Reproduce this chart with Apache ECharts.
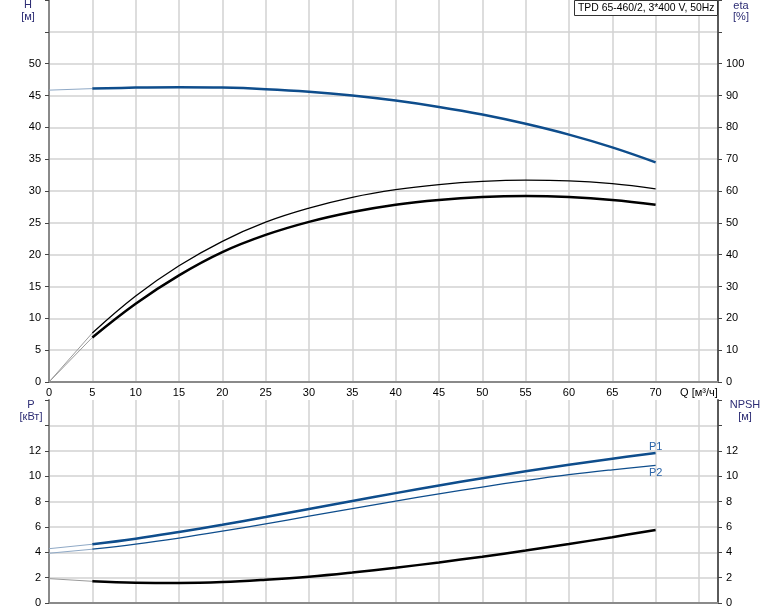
<!DOCTYPE html>
<html><head><meta charset="utf-8">
<script src="https://cdn.jsdelivr.net/npm/echarts/dist/echarts.min.js"></script>
<style>html,body{margin:0;padding:0;background:#fff}#c{width:774px;height:611px}</style>
</head><body><div id="c"></div>
<script>
// ---- data ----
const Q        = [0, 5, 10, 15, 20, 25, 30, 35, 40, 45, 50, 55, 60, 65, 70];
const H        = [45.84, 46.08, 46.24, 46.3, 46.24, 46.0, 45.6, 45.0, 44.2, 43.2, 42.0, 40.55, 38.85, 36.85, 34.5];
const etaThin  = [0, 15.4, 27.0, 36.5, 44.2, 50.2, 54.6, 58.0, 60.4, 62.0, 63.0, 63.4, 63.2, 62.3, 60.7];
const etaThick = [0, 14.0, 24.6, 33.5, 40.8, 46.2, 50.3, 53.4, 55.7, 57.2, 58.1, 58.4, 58.1, 57.2, 55.7];
const P1       = [4.28, 4.63, 5.07, 5.6, 6.17, 6.78, 7.41, 8.04, 8.66, 9.26, 9.84, 10.38, 10.89, 11.37, 11.82];
const P2       = [3.92, 4.24, 4.64, 5.12, 5.66, 6.24, 6.84, 7.44, 8.03, 8.6, 9.14, 9.65, 10.11, 10.5, 10.85];
const NPSH     = [1.92, 1.71, 1.6, 1.58, 1.65, 1.83, 2.07, 2.40, 2.78, 3.2, 3.65, 4.14, 4.65, 5.19, 5.76];
const titleText = 'TPD 65-460/2, 3*400 V, 50Hz';
const qLabel = 'Q [м³/ч]';

const FONT = '"Liberation Sans", Arial, sans-serif';
const BLUE = '#0e4d8c', BLUE_EXT = '#8fa9c6', BLACK = '#000', GREY_EXT = '#9a9a9a';
const GRIDC = '#d2d2d2';

function pts(ys, a, b) { return Q.slice(a, b).map((q, i) => [q, ys[a + i]]); }
function ext(ys, xi, yi, color) {
  return { type: 'line', xAxisIndex: xi, yAxisIndex: yi, data: pts(ys, 0, 2), showSymbol: false,
    lineStyle: { color: color, width: 1 }, silent: true, z: 3 };
}
function main(ys, xi, yi, color, w, extra) {
  return Object.assign({ type: 'line', xAxisIndex: xi, yAxisIndex: yi, data: pts(ys, 1, Q.length),
    showSymbol: false, smooth: 0.4, lineStyle: { color: color, width: w }, silent: true, z: 4 }, extra || {});
}
const splitL = { show: true, showMinLine: false, showMaxLine: false, lineStyle: { color: GRIDC, width: 1.5 } };
function xAx(gi, labels) {
  return { type: 'value', gridIndex: gi, min: 0, max: 77.2, interval: 5,
    axisLine: { show: true, onZero: false, lineStyle: { color: '#8a8a8a', width: 2 } },
    axisTick: { show: false },
    axisLabel: { show: labels, margin: 5, color: '#000', fontSize: 11, fontFamily: FONT,
      formatter: v => (v === 75 ? qLabel : (v % 5 === 0 && v < 75 ? String(v) : '')) },
    splitLine: splitL };
}
function yAx(gi, pos, max, interval, maxLabel, split, lineColor) {
  return { type: 'value', gridIndex: gi, position: pos, min: 0, max: max, interval: interval,
    axisLine: { show: true, onZero: false, lineStyle: { color: lineColor, width: 2 } },
    axisTick: { show: true, length: 4, lineStyle: { color: '#444' } },
    axisLabel: { margin: 8, color: '#000', fontSize: 11, fontFamily: FONT,
      formatter: v => (v <= maxLabel ? String(v) : '') },
    splitLine: split ? splitL : { show: false } };
}
function txt(x, y, s, color) {
  return { type: 'text', x: x, y: y, silent: true,
    style: { text: s, fill: color, font: '11px ' + FONT, align: 'center', verticalAlign: 'middle' } };
}
const TC = '#2c2c74';

const chart = echarts.init(document.getElementById('c'), null, { renderer: 'canvas' });
chart.setOption({
  animation: false,
  backgroundColor: '#fff',
  grid: [
    { left: 49, right: 56, top: 0, height: 382, outerBoundsMode: 'none' },
    { left: 49, right: 56, top: 400, height: 203, outerBoundsMode: 'none' }
  ],
  xAxis: [xAx(0, true), xAx(1, false)],
  yAxis: [
    yAx(0, 'left', 60, 5, 50, true, '#8a8a8a'),
    yAx(0, 'right', 120, 10, 100, false, '#5a5a5a'),
    yAx(1, 'left', 16, 2, 12, true, '#8a8a8a'),
    yAx(1, 'right', 16, 2, 12, false, '#5a5a5a')
  ],
  series: [
    ext(H, 0, 0, BLUE_EXT), main(H, 0, 0, BLUE, 2.5),
    ext(etaThin, 0, 1, GREY_EXT), main(etaThin, 0, 1, BLACK, 1.3),
    ext(etaThick, 0, 1, GREY_EXT), main(etaThick, 0, 1, BLACK, 2.5),
    ext(P1, 1, 2, BLUE_EXT), main(P1, 1, 2, BLUE, 2.5, {
      markPoint: { silent: true, symbol: 'circle', symbolSize: 0,
        data: [{ coord: [Q[Q.length - 1], P1[P1.length - 1]],
          label: { show: true, formatter: 'P1', position: 'top', distance: 1, color: '#2a64a8', fontSize: 11, fontFamily: FONT } }] } }),
    ext(P2, 1, 2, BLUE_EXT), main(P2, 1, 2, BLUE, 1.3, {
      markPoint: { silent: true, symbol: 'circle', symbolSize: 0,
        data: [{ coord: [Q[Q.length - 1], P2[P2.length - 1]],
          label: { show: true, formatter: 'P2', position: 'bottom', distance: 2, color: '#2a64a8', fontSize: 11, fontFamily: FONT } }] } }),
    ext(NPSH, 1, 3, GREY_EXT), main(NPSH, 1, 3, BLACK, 2.5)
  ],
  graphic: [
    txt(28, 4.5, 'H', TC), txt(28, 17, '[м]', TC),
    txt(741, 5.5, 'eta', TC), txt(741, 17, '[%]', TC),
    txt(31, 405, 'P', TC), txt(31, 417, '[кВт]', TC),
    txt(745, 405, 'NPSH', TC), txt(745, 417, '[м]', TC),
    { type: 'rect', silent: true, shape: { x: 574.5, y: 0.5, width: 143, height: 15 },
      style: { fill: '#fff', stroke: '#333', lineWidth: 1 }, z: 100 },
    { type: 'text', silent: true, x: 578, y: 8.5, z: 101,
      style: { text: titleText, fill: '#000', font: '10.4px ' + FONT, align: 'left', verticalAlign: 'middle' } }
  ]
});
</script>
</body></html>
